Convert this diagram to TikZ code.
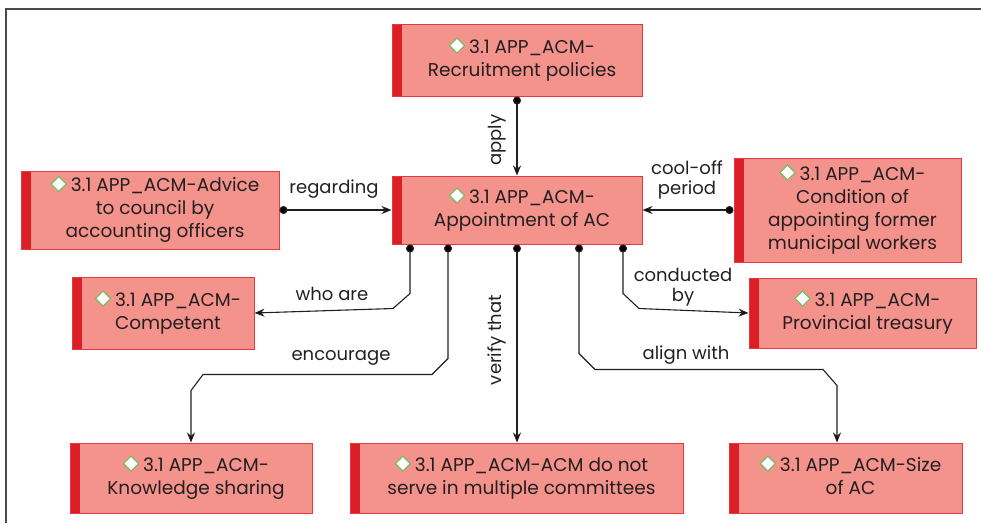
\documentclass[tikz,border=0pt]{standalone}
\usepackage{fontspec}
\setmainfont{Poppins}
\usetikzlibrary{arrows.meta}

\definecolor{boxfill}{HTML}{F4928C}
\definecolor{boxedge}{HTML}{E23A3F}
\definecolor{boxbar}{HTML}{DC1F27}
\definecolor{ink}{HTML}{231F20}
\definecolor{gemedge}{HTML}{74BF62}
\definecolor{framegray}{HTML}{4A4A4A}

% small white diamond with a green rim, set before each topic title
\newcommand{\gem}{\tikz[baseline=0pt]\draw[gemedge,fill=white,line width=1.2pt]
  (0pt,7.5pt)--(7.5pt,15pt)--(15pt,7.5pt)--(7.5pt,0pt)--cycle;\hspace{4pt}}
% topic text, pushed right past the red bar on the left
\newcommand{\tbody}[1]{\hspace*{10pt}\begin{tabular}{@{}c@{}}#1\end{tabular}}

\tikzset{
  topic/.style={draw=boxedge, line width=1pt, fill=boxfill, text=ink,
    inner sep=0pt, font=\fontsize{18.5}{23}\selectfont,
    path picture={\fill[boxbar] (path picture bounding box.north west)
      rectangle ([xshift=10pt]path picture bounding box.south west);}},
  rel/.style={draw=ink, line width=1.1pt,
    {Circle[length=8pt]}-{Stealth[length=10pt,width=8pt]}},
  lbl/.style={text=ink, inner sep=0pt, align=center,
    font=\fontsize{18}{19.5}\selectfont},
}

\begin{document}
\begin{tikzpicture}[x=1pt,y=-1pt]
\useasboundingbox (0,0) rectangle (981,523);

% open frame along the top and left edges
\draw[framegray, line width=1.5pt] (6,523) -- (6,9) -- (981,9);

% topics
\node[topic, minimum width=250pt, minimum height=72pt] (recruit) at (517,60)
  {\tbody{\gem 3.1 APP\_ACM-\\Recruitment policies}};
\node[topic, minimum width=250pt, minimum height=68pt] (appoint) at (517,210)
  {\tbody{\gem 3.1 APP\_ACM-\\Appointment of AC}};
\node[topic, minimum width=258pt, minimum height=78pt] (advice) at (150,210)
  {\tbody{\gem 3.1 APP\_ACM-Advice\\to council by\\accounting officers}};
\node[topic, minimum width=182pt, minimum height=72pt] (competent) at (163,313)
  {\tbody{\gem 3.1 APP\_ACM-\\Competent}};
\node[topic, minimum width=227pt, minimum height=104pt] (condition) at (847.5,210)
  {\tbody{\gem 3.1 APP\_ACM-\\Condition of\\appointing former\\municipal workers}};
\node[topic, minimum width=227pt, minimum height=70pt] (provincial) at (862.5,313)
  {\tbody{\gem 3.1 APP\_ACM-\\Provincial treasury}};
\node[topic, minimum width=242pt, minimum height=70pt] (knowledge) at (191,478)
  {\tbody{\gem 3.1 APP\_ACM-\\Knowledge sharing}};
\node[topic, minimum width=333pt, minimum height=70pt] (verify) at (516.5,478)
  {\tbody{\gem 3.1 APP\_ACM-ACM do not\\serve in multiple committees}};
\node[topic, minimum width=233pt, minimum height=70pt] (size) at (845.5,478)
  {\tbody{\gem 3.1 APP\_ACM-Size\\of AC}};

% relations
\draw[rel] (recruit.south) -- (appoint.north);
\draw[rel] (advice.east) -- (appoint.west);
\draw[rel] (condition.west) -- (appoint.east);
\draw[rel] ([xshift=-107pt]appoint.south) -- ++(0,49) -- ++(-17,15)
  -- (competent.east);
\draw[rel] ([xshift=-69pt]appoint.south) -- ++(0,114) -- ++(-16,16)
  -- ++(-229,0) -- ++(-12,16) -- (knowledge.north);
\draw[rel] (appoint.south) -- (appoint.south |- verify.north);
\draw[rel] ([xshift=62pt]appoint.south) -- ++(0,109) -- ++(16,16)
  -- ++(228,0) -- ++(14,16) -- ([xshift=-8.5pt]size.north);
\draw[rel] ([xshift=106pt]appoint.south) -- ++(0,49) -- ++(16,15)
  -- (provincial.west);

% relation labels
\node[lbl, rotate=90] (lapply) at (497,140) {apply};
\node[lbl] (lregard) at (334,189) {regarding};
\node[lbl] (lcool) at (687,180) {cool-off\\period};
\node[lbl] (lwho) at (332,294) {who are};
\node[lbl] (lenc) at (341,358) {encourage};
\node[lbl, rotate=90] (lverify) at (497,340) {verify that};
\node[lbl] (lcond) at (683,287) {conducted\\by};
\node[lbl] (lalign) at (686,355) {align with};
\end{tikzpicture}
\end{document}
